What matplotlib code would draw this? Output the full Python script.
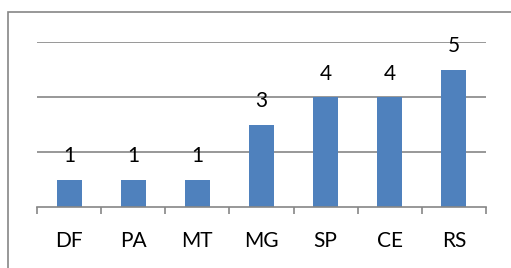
import numpy as np
import matplotlib.pyplot as plt
from matplotlib.patches import Rectangle

states = ["DF", "PA", "MT", "MG", "SP", "CE", "RS"]
counts = [1, 1, 1, 3, 4, 4, 5]

plt.rcParams['font.family'] = ['Lato', 'DejaVu Sans']

fig = plt.figure(figsize=(5.11, 2.68), dpi=100)
ax = fig.add_axes([37 / 511, 1 - 207 / 268, 449 / 511, 165 / 268])

x = np.arange(len(states))
bars = ax.bar(x, counts, width=0.39, color="#4F81BD", zorder=2)

# data labels above each bar
for xi, c in zip(x, counts):
    ax.annotate(str(c), (xi, c), xytext=(0, 9.5), textcoords="offset points",
                ha="center", va="bottom", fontsize=15, color="black")

ax.set_xlim(-0.5, len(states) - 0.5)
ax.set_ylim(0, 6)
ax.set_yticks([2, 4, 6])
ax.yaxis.grid(True, color="#868686", linewidth=1.2, zorder=0)
ax.tick_params(axis="y", left=False, labelleft=False)

# tick marks between categories, labels centered
ax.set_xticks(np.arange(-0.5, len(states), 1.0))
ax.set_xticklabels([])
ax.set_xticks(x, minor=True)
ax.set_xticklabels(states, minor=True, fontsize=15)
ax.tick_params(axis="x", which="major", length=5, width=1.2, color="#868686", direction="out")
ax.tick_params(axis="x", which="minor", length=0, pad=17)

for s in ["top", "left", "right"]:
    ax.spines[s].set_visible(False)
ax.spines["bottom"].set_color("#868686")
ax.spines["bottom"].set_linewidth(1.2)

# chart outer border (runs off the image to the right and bottom)
fig.patches.append(Rectangle((8 / 511, -0.1), 1.2, 1 - 12 / 268 + 0.1,
                             transform=fig.transFigure, fill=False,
                             edgecolor="#868686", linewidth=1.2, clip_on=False))

fig.savefig("out.png", dpi=100)
